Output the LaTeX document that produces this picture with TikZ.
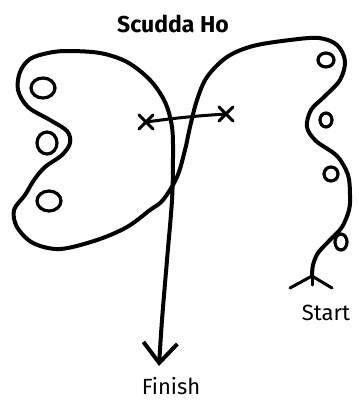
\documentclass[tikz,border=0pt]{standalone}
\usepackage{fontspec}
\newfontfamily\handfont{Fira Sans}
\usetikzlibrary{arrows.meta, shapes.misc}

\begin{document}
\begin{tikzpicture}[x=1pt, y=-1pt, line width=3.6pt, line cap=round, line join=round,
    >={Straight Barb[length=20pt, width=34pt]},
    route/.style={draw, line width=4pt},
    spot/.style={draw, line width=3.2pt},
    crossmark/.style={cross out, draw, minimum size=11pt, inner sep=0pt, line width=3pt},
    lbl/.style={font=\handfont\fontsize{22}{24}\selectfont, inner sep=0pt}]
    \useasboundingbox (0,0) rectangle (359,405);

    % Labels
    \node[lbl, font=\handfont\bfseries\fontsize{23}{25}\selectfont] (title) at (173,24) {Scudda Ho};
    \node[lbl] (finish) at (171,386) {Finish};
    \node[lbl] (start) at (326,313) {Start};

    % Ends of the route
    \coordinate (tail) at (312,276);
    \coordinate (tip) at (159,366);

    % The route (right lobe, crossing, left lobe, down to finish)
    \draw[route, ->] plot[smooth, tension=0.55] coordinates {
        (tail) (313,265) (318,253) (330,240) (342,227) (349,210) (350,195)
        (348,175) (337,156) (316,141) (307,127) (311,110) (324,97) (340,80)
        (345,61) (337,45) (319,38) (290,40) (253,46) (227,57) (207,77)
        (197,100) (190,127) (185,150) (177,177) (163,200) (150,210)
        (127,227) (97,240) (60,249) (33,243) (17,227) (14,210) (25,195)
        (34,180) (45,167) (62,155) (70,143) (67,131) (50,120) (28,107)
        (18,90) (20,72) (30,59) (48,53) (67,51) (100,53) (127,62) (150,80)
        (165,102) (172,127) (173,157) (172,200) (167,260) (162,320) (tip)};

    % Fletching at the start
    \draw[line width=3pt] (tail) -- ++(-22,12);
    \draw[line width=3pt] (tail) -- ++(20,12);
    \draw[line width=3pt] (tail) -- ++(0,9);

    % Spots in the lobes
    \foreach \px/\py/\rx/\ry in {43/88/12/10, 47/143/10/11, 49/201/12/10,
                                 326/60/8/7, 326/120/6/7, 331/174/7/7, 341/242/6/8}
        \draw[spot] (\px,\py) ellipse[x radius=\rx pt, y radius=\ry pt];

    % Crosses and the line between them
    \node[crossmark] (xl) at (146,122) {};
    \node[crossmark] (xr) at (226,114) {};
    \draw[line width=3pt] (xl.center) to[bend left=2] (xr.center);
\end{tikzpicture}
\end{document}
